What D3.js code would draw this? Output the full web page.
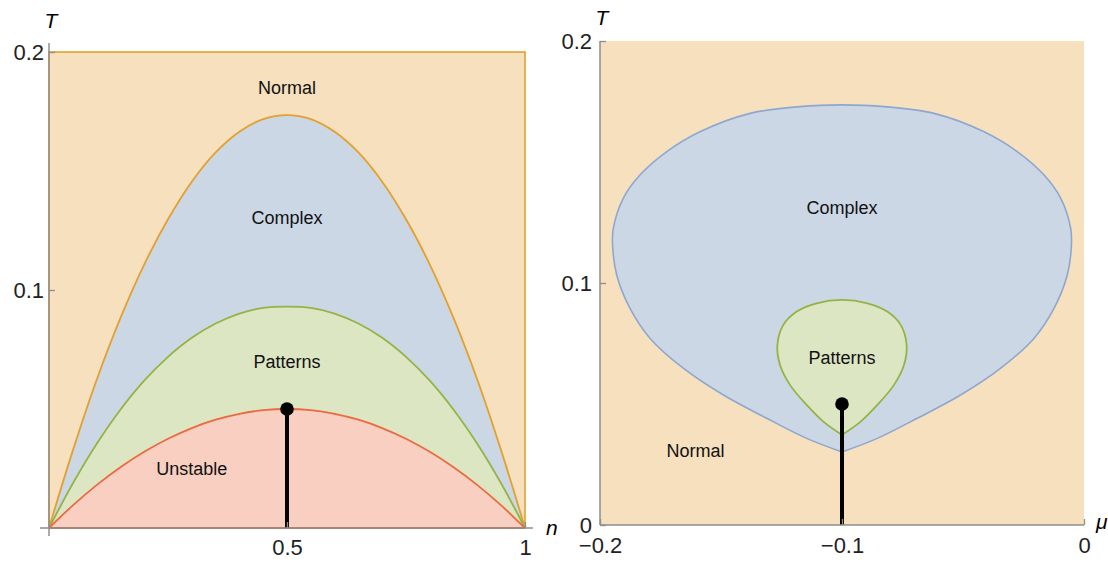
<!DOCTYPE html>
<html>
<head>
<meta charset="utf-8">
<script src="https://cdn.jsdelivr.net/npm/d3@7"></script>
<style>
  html, body { margin: 0; padding: 0; background: #fff; }
  svg { display: block; font-family: "Liberation Sans", Arial, sans-serif; }
</style>
</head>
<body>
<svg id="chart" width="1108" height="563"></svg>
<script>
// left panel: T against n, boundaries read at n = 0, 0.05, ... 1
const nGrid = [0, 0.05, 0.1, 0.15, 0.2, 0.25, 0.3, 0.35, 0.4, 0.45, 0.5,
  0.55, 0.6, 0.65, 0.7, 0.75, 0.8, 0.85, 0.9, 0.95, 1];
const complexT = [0, 0.0325, 0.0622, 0.0882, 0.1107, 0.1297, 0.1455, 0.1578, 0.1665, 0.1718, 0.1735,
  0.1718, 0.1665, 0.1578, 0.1455, 0.1297, 0.1107, 0.0882, 0.0622, 0.0325, 0];
const patternsT = [0, 0.0187, 0.0353, 0.0497, 0.0619, 0.0719, 0.0799, 0.0859, 0.0901, 0.0925, 0.0930,
  0.0925, 0.0901, 0.0859, 0.0799, 0.0719, 0.0619, 0.0497, 0.0353, 0.0187, 0];
const unstableT = [0, 0.0095, 0.018, 0.0255, 0.032, 0.0375, 0.042, 0.0455, 0.048, 0.0495, 0.050,
  0.0495, 0.048, 0.0455, 0.042, 0.0375, 0.032, 0.0255, 0.018, 0.0095, 0];
const pointLeft = { n: 0.5, T: 0.05 };
const labelsLeft = [
  { text: 'Normal', n: 0.5, T: 0.185 },
  { text: 'Complex', n: 0.5, T: 0.1305 },
  { text: 'Patterns', n: 0.5, T: 0.070 },
  { text: 'Unstable', n: 0.3, T: 0.025 }
];

// right panel: T against mu, closed outlines starting and ending at the cusp
const complexMu = [-0.100, -0.1146, -0.1311, -0.1490, -0.1656, -0.1793, -0.1876, -0.1931, -0.1948,
  -0.1945, -0.1904, -0.1835, -0.1724, -0.1587, -0.1380, -0.1174, -0.100,
  -0.0826, -0.0620, -0.0413, -0.0276, -0.0165, -0.0096, -0.0055, -0.0052,
  -0.0069, -0.0124, -0.0207, -0.0344, -0.0510, -0.0689, -0.0854, -0.100];
const complexTr = [0.0302, 0.0358, 0.0441, 0.0537, 0.0648, 0.0771, 0.0895, 0.1033, 0.1157,
  0.1226, 0.1350, 0.1446, 0.1543, 0.1625, 0.1701, 0.1729, 0.1736,
  0.1729, 0.1701, 0.1625, 0.1543, 0.1446, 0.1350, 0.1226, 0.1157,
  0.1033, 0.0895, 0.0771, 0.0648, 0.0537, 0.0441, 0.0358, 0.0302];
const patternsMu = [-0.100, -0.1077, -0.1146, -0.1215, -0.1256, -0.1267, -0.1243, -0.1187, -0.1105,
  -0.100, -0.0895, -0.0813, -0.0757, -0.0733, -0.0744, -0.0785, -0.0854, -0.0923, -0.100];
const patternsTr = [0.0372, 0.0427, 0.0496, 0.0579, 0.0661, 0.0744, 0.0826, 0.0882, 0.0916,
  0.0930, 0.0916, 0.0882, 0.0826, 0.0744, 0.0661, 0.0579, 0.0496, 0.0427, 0.0372];
const pointRight = { mu: -0.1, T: 0.05 };
const labelsRight = [
  { text: 'Complex', mu: -0.1, T: 0.131 },
  { text: 'Patterns', mu: -0.1, T: 0.069 },
  { text: 'Normal', mu: -0.1605, T: 0.0305 }
];

const colors = {
  normal: '#f6e0bd', orange: '#e3a02e',
  complex: '#ccd7e6', blue: '#8ea7cf',
  patterns: '#dde6c3', green: '#93b445',
  unstable: '#f8cfc1', red: '#ec6a3f',
  axis: '#8e8e8e'
};

const svg = d3.select('#chart');

function styleAxis(g, size) {
  g.select('.domain').remove();
  g.selectAll('.tick line').attr('stroke', colors.axis).attr('stroke-width', 1.3);
  g.selectAll('.tick text')
    .attr('fill', '#222')
    .style('font-size', size + 'px')
    .style('font-family', '"Liberation Sans", Arial, sans-serif');
}

// ---------- left panel ----------
const xL = d3.scaleLinear().domain([0, 1]).range([49, 525]);
const yL = d3.scaleLinear().domain([0, 0.2]).range([528, 52]);
const left = svg.append('g').attr('class', 'left');

left.append('rect')
  .attr('x', xL(0)).attr('y', yL(0.2))
  .attr('width', xL(1) - xL(0)).attr('height', yL(0) - yL(0.2))
  .attr('fill', colors.normal)
  .attr('stroke', colors.orange)
  .attr('stroke-width', 1.6);

let idx = d3.range(nGrid.length);
let regions = [
  { vals: complexT, fill: colors.complex, stroke: colors.orange },
  { vals: patternsT, fill: colors.patterns, stroke: colors.green },
  { vals: unstableT, fill: colors.unstable, stroke: colors.red }
];

regions.forEach(r => {
  let area = d3.area()
    .x(i => xL(nGrid[i]))
    .y0(yL(0))
    .y1(i => yL(r.vals[i]))
    .curve(d3.curveCatmullRom.alpha(0.5));
  let line = d3.line()
    .x(i => xL(nGrid[i]))
    .y(i => yL(r.vals[i]))
    .curve(d3.curveCatmullRom.alpha(0.5));
  left.append('path').datum(idx).attr('d', area).attr('fill', r.fill);
  left.append('path').datum(idx).attr('d', line)
    .attr('fill', 'none').attr('stroke', r.stroke).attr('stroke-width', 1.8);
});

left.append('line')
  .attr('x1', xL(0)).attr('x2', xL(1))
  .attr('y1', yL(0)).attr('y2', yL(0))
  .attr('stroke', colors.red).attr('stroke-width', 1.8);

left.append('line')
  .attr('x1', xL(pointLeft.n)).attr('x2', xL(pointLeft.n))
  .attr('y1', yL(0)).attr('y2', yL(pointLeft.T))
  .attr('stroke', '#000').attr('stroke-width', 4);
left.append('circle')
  .attr('cx', xL(pointLeft.n)).attr('cy', yL(pointLeft.T))
  .attr('r', 6.8).attr('fill', '#000');

left.selectAll('text.region')
  .data(labelsLeft)
  .enter().append('text')
  .attr('class', 'region')
  .attr('x', d => xL(d.n))
  .attr('y', d => yL(d.T))
  .attr('dy', '0.35em')
  .attr('text-anchor', 'middle')
  .style('font-size', '18px')
  .attr('fill', '#111')
  .text(d => d.text);

// axes
left.append('line')
  .attr('x1', xL(0) - 9).attr('x2', xL(1) + 8)
  .attr('y1', yL(0)).attr('y2', yL(0))
  .attr('stroke', colors.axis).attr('stroke-width', 1.5);
left.append('line')
  .attr('x1', xL(0)).attr('x2', xL(0))
  .attr('y1', yL(0) + 8).attr('y2', yL(0.2) - 9)
  .attr('stroke', colors.axis).attr('stroke-width', 1.5);

left.append('g')
  .attr('transform', `translate(${xL(0)},0)`)
  .call(d3.axisLeft(yL).tickValues([0.1, 0.2]).tickSize(-6).tickPadding(5).tickFormat(d3.format('.1f')))
  .call(g => styleAxis(g, 22));

left.append('g')
  .attr('transform', `translate(0,${yL(0)})`)
  .call(d3.axisBottom(xL).tickValues([0.5, 1]).tickSize(-6).tickPadding(11).tickFormat(d3.format('~g')))
  .call(g => styleAxis(g, 22));

left.append('text')
  .attr('x', xL(0) + 2).attr('y', yL(0.2) - 24)
  .attr('text-anchor', 'middle')
  .style('font-size', '21px').style('font-style', 'italic')
  .text('T');
left.append('text')
  .attr('x', xL(1) + 21).attr('y', yL(0) + 7)
  .style('font-size', '21px').style('font-style', 'italic')
  .text('n');

// ---------- right panel ----------
const xR = d3.scaleLinear().domain([-0.2, 0]).range([600, 1084]);
const yR = d3.scaleLinear().domain([0, 0.2]).range([525, 41]);
const right = svg.append('g').attr('class', 'right');

right.append('rect')
  .attr('x', xR(-0.2)).attr('y', yR(0.2))
  .attr('width', xR(0) - xR(-0.2)).attr('height', yR(0) - yR(0.2))
  .attr('fill', colors.normal);

let outline = d3.line()
  .x(d => xR(d[0]))
  .y(d => yR(d[1]))
  .curve(d3.curveCatmullRom.alpha(0.5));

right.append('path')
  .datum(d3.zip(complexMu, complexTr))
  .attr('d', d => outline(d) + 'Z')
  .attr('fill', colors.complex)
  .attr('stroke', colors.blue).attr('stroke-width', 1.6);

right.append('path')
  .datum(d3.zip(patternsMu, patternsTr))
  .attr('d', d => outline(d) + 'Z')
  .attr('fill', colors.patterns)
  .attr('stroke', colors.green).attr('stroke-width', 1.8);

right.append('line')
  .attr('x1', xR(pointRight.mu)).attr('x2', xR(pointRight.mu))
  .attr('y1', yR(0)).attr('y2', yR(pointRight.T))
  .attr('stroke', '#000').attr('stroke-width', 4);
right.append('circle')
  .attr('cx', xR(pointRight.mu)).attr('cy', yR(pointRight.T))
  .attr('r', 6.8).attr('fill', '#000');

right.selectAll('text.region')
  .data(labelsRight)
  .enter().append('text')
  .attr('class', 'region')
  .attr('x', d => xR(d.mu))
  .attr('y', d => yR(d.T))
  .attr('dy', '0.35em')
  .attr('text-anchor', 'middle')
  .style('font-size', '18px')
  .attr('fill', '#111')
  .text(d => d.text);

right.append('line')
  .attr('x1', xR(-0.2)).attr('x2', xR(0))
  .attr('y1', yR(0)).attr('y2', yR(0))
  .attr('stroke', colors.axis).attr('stroke-width', 1.5);
right.append('line')
  .attr('x1', xR(-0.2)).attr('x2', xR(-0.2))
  .attr('y1', yR(0)).attr('y2', yR(0.2))
  .attr('stroke', colors.axis).attr('stroke-width', 1.5);

right.append('g')
  .attr('transform', `translate(${xR(-0.2)},0)`)
  .call(d3.axisLeft(yR).tickValues([0, 0.1, 0.2]).tickSize(-6).tickPadding(8).tickFormat(d3.format('~g')))
  .call(g => styleAxis(g, 22));

right.append('g')
  .attr('transform', `translate(0,${yR(0)})`)
  .call(d3.axisBottom(xR).tickValues([-0.2, -0.1, 0]).tickSize(-6).tickPadding(12).tickFormat(d3.format('~g')))
  .call(g => styleAxis(g, 22));

right.append('text')
  .attr('x', xR(-0.2) + 2).attr('y', yR(0.2) - 16)
  .attr('text-anchor', 'middle')
  .style('font-size', '21px').style('font-style', 'italic')
  .text('T');
right.append('text')
  .attr('x', xR(0) + 12).attr('y', yR(0) + 4)
  .style('font-size', '21px').style('font-style', 'italic')
  .text('μ');
</script>
</body>
</html>
